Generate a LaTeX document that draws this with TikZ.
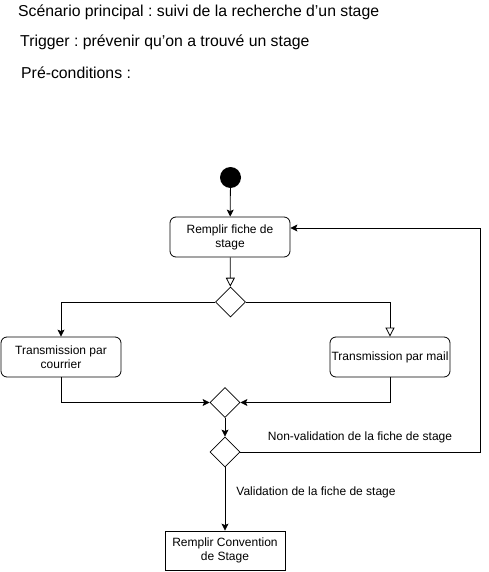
\documentclass[tikz,border=0pt]{standalone}
\usepackage{fontspec}
\setmainfont{Liberation Sans}
\frenchspacing
\usetikzlibrary{shapes.geometric,arrows.meta}
\tikzset{
  act/.style={draw, rounded corners=6pt, minimum width=120pt, minimum height=40pt, align=center, font=\fontsize{12}{14}\selectfont, inner sep=1pt, line width=0.8pt},
  plainbox/.style={draw, minimum width=120pt, minimum height=39pt, align=center, font=\fontsize{12}{14}\selectfont, inner sep=1pt, line width=0.8pt},
  dec/.style={draw, diamond, aspect=1, minimum width=30pt, minimum height=30pt, inner sep=0pt, line width=0.8pt},
  startnode/.style={circle, fill=black, minimum size=21pt, inner sep=0pt},
  arr/.style={line width=0.8pt, -{Stealth[length=7pt,width=7pt,inset=1.5pt]}},
  oarr/.style={line width=0.8pt, -{Triangle[open,length=9pt,width=9pt]}},
  lbl/.style={font=\fontsize{12}{14}\selectfont, inner sep=0pt},
  head/.style={font=\fontsize{15.8}{18}\selectfont, anchor=west, inner sep=0pt}
}
\begin{document}
\begin{tikzpicture}[x=1pt,y=-1pt]
\useasboundingbox (0,0) rectangle (489,572);
\node[head] (t1) at (18,12) {Scénario principal : suivi de la recherche d’un stage};
\node[head] (t2) at (20,42) {Trigger : prévenir qu’on a trouvé un stage};
\node[head] (t3) at (21,73) {Pré-conditions :};

\node[startnode] (start) at (230.5,177.5) {};
\node[act] (fiche) at (230,237) {Remplir fiche de\\stage};
\node[dec] (d1) at (230.5,302) {};
\node[act] (courrier) at (61,357) {Transmission par\\courrier};
\node[act] (mail) at (390,357) {Transmission par mail};
\node[dec] (merge) at (225,402.5) {};
\node[dec] (decision) at (225,452) {};
\node[plainbox] (conv) at (225,550.5) {Remplir Convention\\de Stage};

\node[lbl] (lnon) at (360,437) {Non-validation de la fiche de stage};
\node[lbl] (lval) at (316,492) {Validation de la fiche de stage};

\coordinate (r1) at (480,228);

\draw[arr] (start) -- (fiche);
\draw[oarr] (fiche) -- (d1);
\draw[arr] (d1.west) -| (courrier.north);
\draw[oarr] (d1.east) -| (mail.north);
\draw[arr] (courrier.south) |- (merge.west);
\draw[arr] (mail.south) |- (merge.east);
\draw[arr] (merge) -- (decision);
\draw[arr] (decision.east) -| (r1) -- (fiche.east |- r1);
\draw[arr] (decision) -- (conv);
\end{tikzpicture}
\end{document}
